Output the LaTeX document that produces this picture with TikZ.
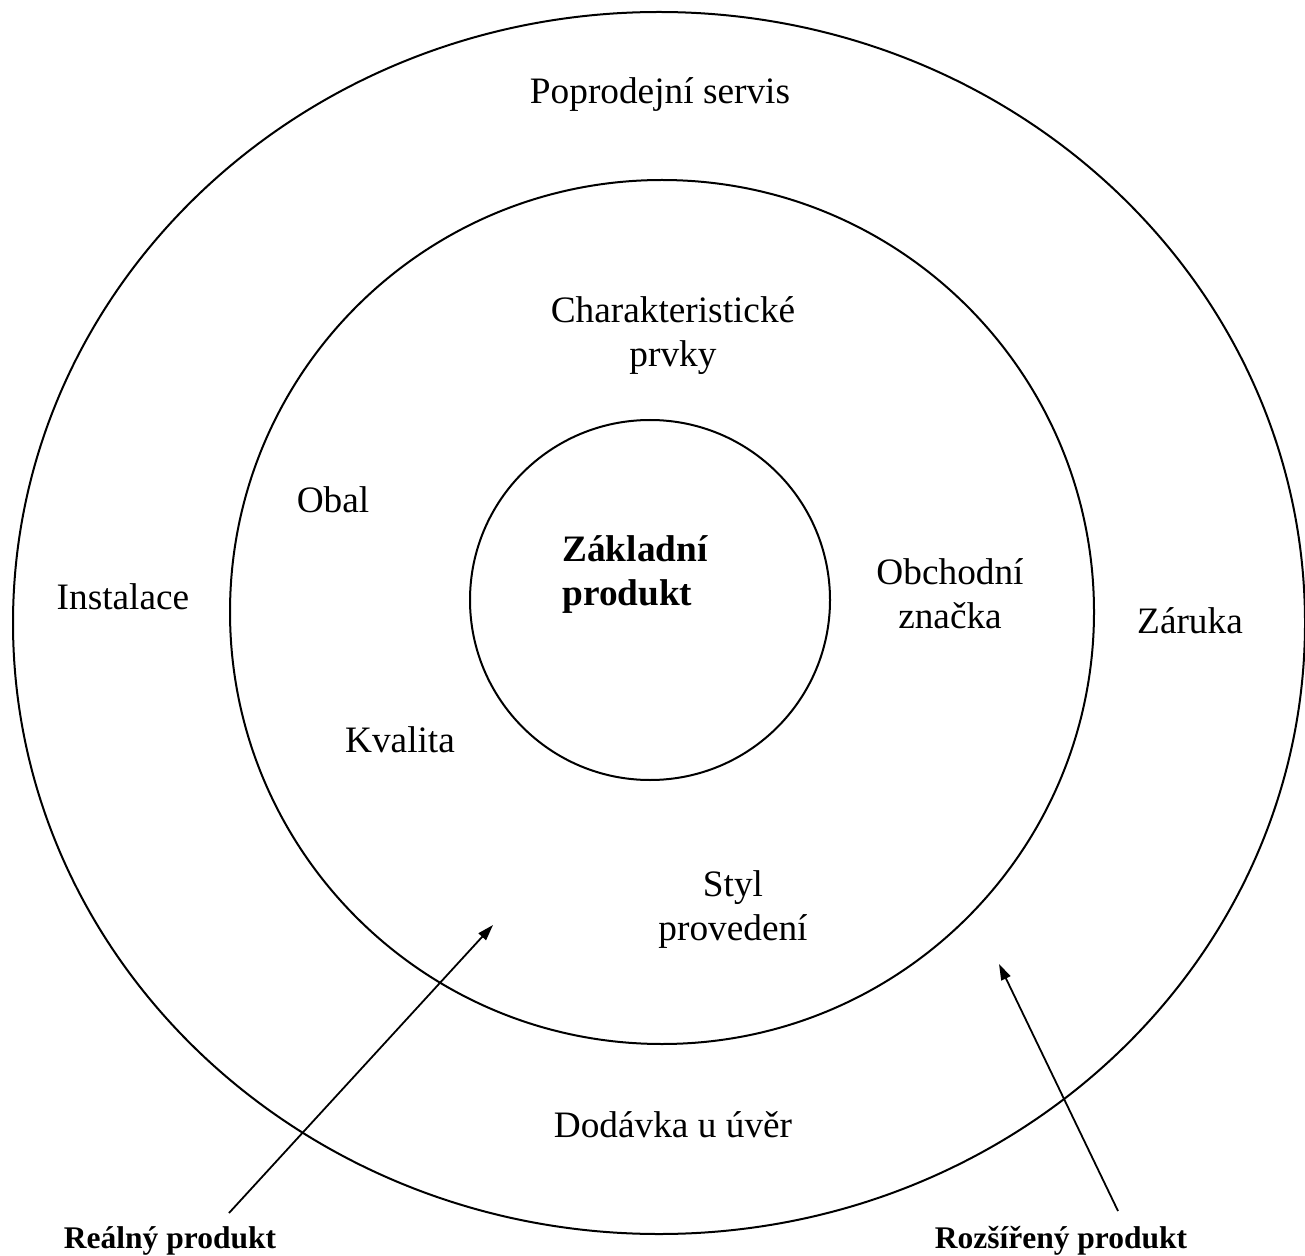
\documentclass[tikz,border=0pt]{standalone}
\usepackage{fontspec}
\setmainfont{Liberation Serif}
\usetikzlibrary{arrows.meta}
\begin{document}
\begin{tikzpicture}[x=0.5pt,y=-0.5pt,
  ring/.style={draw=black,line width=1pt},
  lbl/.style={font=\fontsize{18.65}{22}\selectfont,inner sep=0pt,anchor=base,align=center},
  blbl/.style={font=\fontsize{15.75}{19}\selectfont\bfseries,inner sep=0pt,anchor=base},
  pointer/.style={line width=0.9pt,-{Triangle[length=8pt,width=5pt]}}]
\useasboundingbox (0,0) rectangle (1305,1256);
\fill[white] (0,0) rectangle (1305,1256);
% rings
\draw[ring] (659,623) ellipse [x radius=646,y radius=611];
\draw[ring] (662,612) circle [radius=432];
\draw[ring] (650,600) circle [radius=180];
% outer ring labels
\node[lbl] (servis) at (660,104) {Poprodejní servis};
\node[lbl] (instalace) at (123,609) {Instalace};
\node[lbl] (zaruka) at (1190,633) {Záruka};
\node[lbl] (dodavka) at (673,1137) {Dodávka u úvěr};
% middle ring labels (base = baseline of last line)
\node[lbl] (prvky) at (673,367) {Charakteristické\\prvky};
\node[lbl] (obal) at (333,512) {Obal};
\node[lbl] (znacka) at (950,628) {Obchodní\\značka};
\node[lbl] (kvalita) at (400,752) {Kvalita};
\node[lbl] (styl) at (733,940) {Styl\\provedení};
% core
\node[lbl,align=left,anchor=base west,font=\fontsize{18.65}{22}\selectfont\bfseries] (zaklad) at (562,605) {Základní\\produkt};
% bottom labels
\node[blbl] (realny) at (170,1248) {Reálný produkt};
\node[blbl] (rozsireny) at (1061,1248) {Rozšířený produkt};
% pointers
\coordinate (rtail) at (229,1213);
\coordinate (rhead) at (493,925);
\coordinate (etail) at (1118,1211);
\coordinate (ehead) at (999,964);
\draw[pointer] (rtail) -- (rhead);
\draw[pointer] (etail) -- (ehead);
\end{tikzpicture}
\end{document}
